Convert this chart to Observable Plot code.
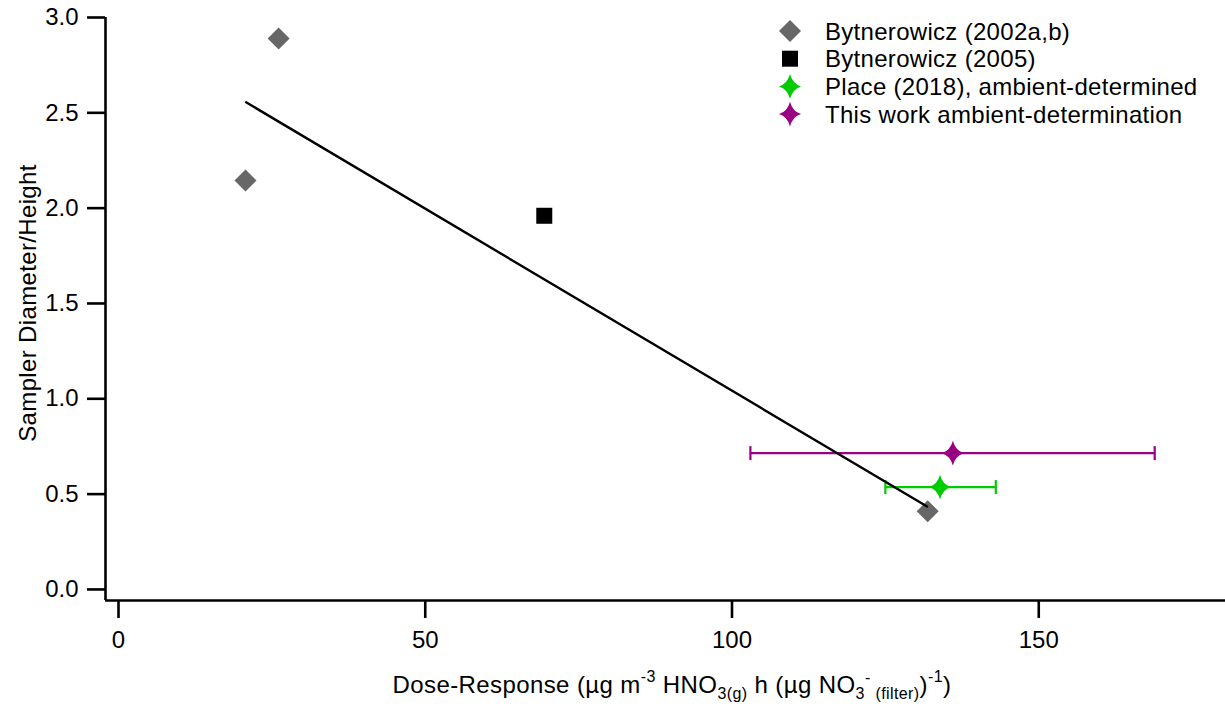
<!DOCTYPE html>
<html>
<head>
<meta charset="utf-8">
<script src="https://cdn.jsdelivr.net/npm/d3@7"></script>
<script src="https://cdn.jsdelivr.net/npm/@observablehq/plot@0.6"></script>
<style>
  html, body { margin: 0; padding: 0; background: #fff; }
  #chart { position: relative; width: 1225px; height: 706px; }
</style>
</head>
<body>
<div id="chart"></div>
<script>
// ---- data ----
const bytnerowicz2002X = [26.1, 20.7, 131.9];
const bytnerowicz2002Y = [2.89, 2.145, 0.41];
const bytnerowicz2005X = [69.4];
const bytnerowicz2005Y = [1.96];
const place2018X = [133.9];
const place2018Y = [0.537];
const place2018Lo = [125.0];
const place2018Hi = [143.0];
const thisWorkX = [136.0];
const thisWorkY = [0.715];
const thisWorkLo = [103.0];
const thisWorkHi = [168.9];
const fitX = [20.8, 131.8];
const fitY = [2.555, 0.435];
const xTicks = [0, 50, 100, 150];
const yTicks = [0, 0.5, 1.0, 1.5, 2.0, 2.5, 3.0];
const legendLabels = ["Bytnerowicz (2002a,b)", "Bytnerowicz (2005)", "Place (2018), ambient-determined", "This work ambient-determination"];
const colors = { gray: "#676767", black: "#000000", green: "#00cc00", purple: "#990082" };

// ---- custom symbols ----
const diamondSym = { draw(ctx, size) { const r = Math.sqrt(size / Math.PI); ctx.moveTo(0, -r); ctx.lineTo(r, 0); ctx.lineTo(0, r); ctx.lineTo(-r, 0); ctx.closePath(); } };
const squareSym = { draw(ctx, size) { const r = Math.sqrt(size / Math.PI); ctx.rect(-r, -r, 2 * r, 2 * r); } };
const starSym = { draw(ctx, size) {
  const w = Math.sqrt(size / Math.PI), h = w * 1.12, k = 0.22;
  ctx.moveTo(0, -h);
  ctx.quadraticCurveTo(k * w, -k * h, w, 0);
  ctx.quadraticCurveTo(k * w, k * h, 0, h);
  ctx.quadraticCurveTo(-k * w, k * h, -w, 0);
  ctx.quadraticCurveTo(-k * w, -k * h, 0, -h);
  ctx.closePath();
} };
const capSym = { draw(ctx, size) { const r = Math.sqrt(size / Math.PI); ctx.moveTo(0, -r); ctx.lineTo(0, r); } };

const byt02 = bytnerowicz2002X.map((x, i) => ({ x, y: bytnerowicz2002Y[i] }));
const byt05 = bytnerowicz2005X.map((x, i) => ({ x, y: bytnerowicz2005Y[i] }));
const place = place2018X.map((x, i) => ({ x, y: place2018Y[i], lo: place2018Lo[i], hi: place2018Hi[i] }));
const thisw = thisWorkX.map((x, i) => ({ x, y: thisWorkY[i], lo: thisWorkLo[i], hi: thisWorkHi[i] }));
const fit = fitX.map((x, i) => ({ x, y: fitY[i] }));

const xDomain = [-2.12, 180.44];
const yDomain = [-0.058, 3.0];
const font = "'Liberation Sans', Arial, sans-serif";
const FS = 24;

function errorMarks(data, color) {
  return [
    Plot.ruleY(data, { y: "y", x1: "lo", x2: "hi", stroke: color, strokeWidth: 2.2 }),
    Plot.dot(data, { x: "lo", y: "y", symbol: capSym, r: 7, stroke: color, strokeWidth: 2.2, fill: "none" }),
    Plot.dot(data, { x: "hi", y: "y", symbol: capSym, r: 7, stroke: color, strokeWidth: 2.2, fill: "none" }),
    Plot.dot(data, { x: "x", y: "y", symbol: starSym, r: 11, fill: color, stroke: "none" })
  ];
}

const plot = Plot.plot({
  width: 1225,
  height: 706,
  marginLeft: 105,
  marginRight: 0,
  marginTop: 17,
  marginBottom: 106,
  style: { fontFamily: font, fontSize: FS + "px", background: "#fff", color: "#000" },
  x: { domain: xDomain },
  y: { domain: yDomain },
  marks: [
    Plot.axisX({ ticks: xTicks, tickSize: 18, tickPadding: 12, stroke: "#000", strokeWidth: 2.6, label: null, fontSize: FS }),
    Plot.axisY({ ticks: yTicks, tickFormat: d3.format(".1f"), tickSize: 18, tickPadding: 9, stroke: "#000", strokeWidth: 2.6, label: null, fontSize: FS }),
    Plot.ruleX([xDomain[0]], { stroke: "#000", strokeWidth: 2.6 }),
    Plot.ruleY([yDomain[0]], { stroke: "#000", strokeWidth: 2.6 }),
    ...errorMarks(thisw, colors.purple),
    ...errorMarks(place, colors.green),
    Plot.dot(byt02, { x: "x", y: "y", symbol: diamondSym, r: 11, fill: colors.gray, stroke: "none" }),
    Plot.dot(byt05, { x: "x", y: "y", symbol: squareSym, r: 8, fill: colors.black, stroke: "none" }),
    Plot.line(fit, { x: "x", y: "y", stroke: "#000", strokeWidth: 2.4 })
  ]
});

document.getElementById("chart").appendChild(plot);
const svg = d3.select(plot);

// legend
const legendSyms = [
  { sym: diamondSym, r: 11, color: colors.gray },
  { sym: squareSym, r: 8, color: colors.black },
  { sym: starSym, r: 11, color: colors.green },
  { sym: starSym, r: 11, color: colors.purple }
];
const lg = svg.append("g").attr("font-family", font).attr("font-size", FS).attr("text-anchor", "start");
legendSyms.forEach((s, i) => {
  const yy = 31 + i * 27.7;
  lg.append("path")
    .attr("d", d3.symbol(s.sym, Math.PI * s.r * s.r)())
    .attr("transform", `translate(790,${yy})`)
    .attr("fill", s.color);
  lg.append("text").attr("x", 825).attr("y", yy).attr("dy", "0.36em")
    .attr("letter-spacing", 0.3).attr("fill", "#000").text(legendLabels[i]);
});

// y label
svg.append("text")
  .attr("transform", "translate(36,303) rotate(-90)")
  .attr("text-anchor", "middle")
  .attr("letter-spacing", 0.35)
  .attr("font-family", font).attr("font-size", FS).attr("fill", "#000")
  .text("Sampler Diameter/Height");

// x label with sub/superscripts
const xl = svg.append("text")
  .attr("x", 672).attr("y", 693)
  .attr("text-anchor", "middle")
  .attr("letter-spacing", 0.4)
  .attr("font-family", font).attr("font-size", FS).attr("fill", "#000");
const parts = [
  ["Dose-Response (µg m", 0, FS],
  ["-3", -11, 16],
  [" HNO", 11, FS],
  ["3(g)", 6, 16],
  [" h (µg NO", -6, FS],
  ["3", 6, 16],
  ["-", -16, 16],
  [" (filter)", 16, 16],
  [")", -6, FS],
  ["-1", -11, 16],
  [")", 11, FS]
];
parts.forEach(([t, dy, fs]) => {
  xl.append("tspan").attr("dy", dy).attr("font-size", fs).text(t);
});
</script>
</body>
</html>
